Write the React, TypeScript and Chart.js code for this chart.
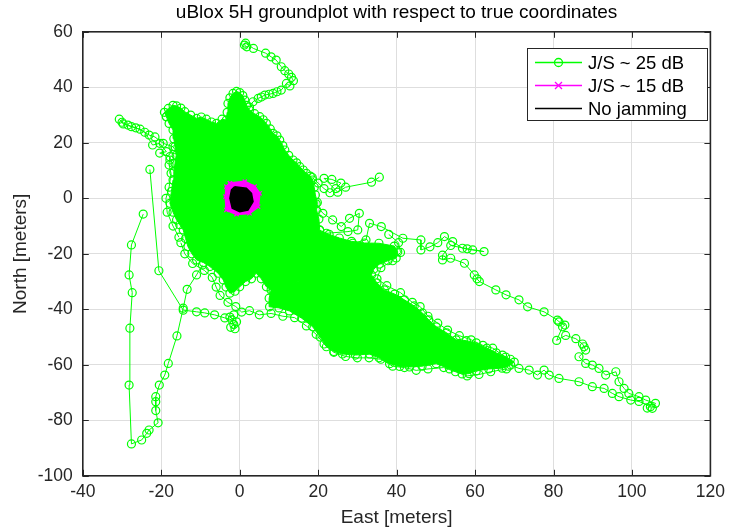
import React, { useEffect, useRef } from 'react';
import { Chart, registerables } from 'chart.js';

Chart.register(...registerables);

type P = [number, number];

const TITLE = 'uBlox 5H groundplot with respect to true coordinates';
const X_LABEL = 'East [meters]';
const Y_LABEL = 'North [meters]';
const X_MIN = -40, X_MAX = 120, X_STEP = 20;
const Y_MIN = -100, Y_MAX = 60, Y_STEP = 20;
const LEGEND_LABELS = ['J/S ~ 25 dB', 'J/S ~ 15 dB', 'No jamming'];

// ---- J/S ~ 25 dB (green, circles) ----
// dense core outline
const js25Core: P[] = [
  [-18.7, 29.4], [-19.2, 31], [-18.2, 32.4], [-17, 33.5], [-16.1, 33.3], [-15, 32.5], [-14.0, 31.2],
  [-12.5, 30], [-11.0, 28.8], [-9.8, 29.3], [-8.5, 28.5], [-7.2, 27.5], [-5.9, 27.0], [-4.5, 28.5],
  [-3.4, 28.2], [-3.2, 31], [-3.0, 34.2], [-2.5, 36.2], [-1.7, 37.8], [-0.8, 38.5], [0, 38.1], [0.8, 37],
  [1.3, 35.4], [1.8, 33.5], [2.5, 31.8], [3.8, 30.5], [5.1, 29.4], [6, 28.3], [6.8, 27.0], [7.8, 25],
  [8.5, 23.4], [9.5, 22.5], [10.2, 21.0], [11, 19], [11.5, 17.4], [12.5, 15.5], [13.6, 13.8], [14.5, 12.8],
  [15.3, 11.4], [16.2, 10.2], [17.0, 9.0], [18, 8], [18.6, 6.6], [19, 4], [19.3, 1.2], [19.8, -1.5],
  [19.6, -4.2], [20.2, -7.5], [20.4, -11.5], [21, -15], [20.5, -18], [20, -21.5], [19, -25], [17, -28],
  [15, -30], [12.5, -31.5], [10, -33], [8.5, -33.5], [6.8, -31.9], [5.5, -29], [4.2, -27.0], [3, -29],
  [1.5, -30], [0, -31.9], [-1.2, -33.5], [-2.5, -34.2], [-3.5, -32], [-4.2, -29.4], [-5.5, -27],
  [-7.6, -24.6], [-9.2, -23.2], [-11.0, -22.2], [-12.2, -20], [-13.2, -17.4], [-13.8, -14.5],
  [-14.4, -11.4], [-15.3, -9.5], [-16.1, -7.8], [-17, -5], [-17.8, -1.8], [-17.4, 2.5], [-17.0, 6.6],
  [-16.8, 9.5], [-16.5, 12.6], [-16.2, 15.5], [-16.5, 18.6], [-16.8, 21.5], [-17.0, 24.6], [-18, 27],
  [-18.7, 29.4],
];
// dense south-east arm outline
const js25Arm: P[] = [
  [20.4, -11.5], [22.8, -13], [25.4, -14.3], [28.5, -15.5], [31.8, -16.1], [35.5, -16.2], [39.4, -17.2],
  [40.3, -19.3], [39.9, -21.5], [37.8, -22.5], [35.6, -23.7], [34.2, -25.5], [33.6, -27.6], [35, -30.5],
  [36.9, -33.0], [39.5, -34.5], [42.0, -36.6], [44.5, -38.8], [46.6, -41.3], [48.2, -43.8], [50.1, -46.3],
  [52.8, -48.5], [55.2, -51.0], [57.8, -51.3], [60.3, -52.1], [63, -54], [65.4, -55.7], [67.8, -57.2],
  [70.0, -59.0], [68.5, -60.5], [66.9, -61.2], [63.5, -61.5], [60.3, -62.2], [58.5, -63.2], [56.7, -63.3],
  [53.5, -61.5], [50.1, -59.6], [46.5, -60.5], [43.3, -60.8], [40.8, -60.6], [38.2, -59.6], [35.5, -57.5],
  [33.1, -56.1], [29.5, -56.5], [26.2, -56.1], [24, -55.2], [22.1, -53.5], [20.5, -50], [18.6, -46.3],
  [15.8, -43.2], [12.7, -40.6], [10, -39.5], [7.6, -39.1], [7.5, -36], [8, -33], [11.5, -31.5], [15, -30],
  [18, -22], [20.4, -11.5],
];
const js25Spur: P[] = [
  [2.5, 32.9], [3.4, 34.8], [4.7, 36.0], [5.5, 36.5], [6.4, 37.2], [7.5, 37.5], [8.5, 37.8], [9.5, 38.4],
  [10.6, 39.0], [11.9, 41.4], [12.8, 40.5], [13.7, 42.4], [13.2, 43.6], [12.5, 44.8], [11.5, 46.0],
  [10.6, 47.4], [9.3, 49.8], [8.0, 51.0], [6.6, 52.3], [3.5, 54.0], [1.5, 55.9], [1.2, 55.2], [1.8, 54.6],
];
const js25WestArm: P[] = [
  [-16.5, 17.5], [-17, 18.6], [-19.5, 19.8], [-21.6, 22.1], [-23.1, 22.8], [-25.4, 24.9], [-27.6, 25.8],
  [-29.7, 26.8], [-30.7, 28.5], [-30, 27.4], [-28.5, 26.4], [-26.5, 25.4], [-24.2, 23.8], [-22.2, 19.2],
  [-20.4, 19.8], [-18.7, 16.8], [-20.4, 16.3], [-17.8, 15], [-17.8, 13.8], [-17, 12.6],
];
const js25SouthLoop: P[] = [
  [-9.5, -24], [-11, -27.6], [-13.4, -32.8], [-14.4, -39.6], [-16, -49.6], [-18.2, -59.5], [-19.1, -63.7],
  [-20.5, -67.3], [-21.4, -71.5], [-21.4, -73.3], [-21.4, -76.5], [-20.8, -80.9], [-23.1, -83.5],
  [-23.7, -84.7], [-25, -87.1], [-27.6, -88.5], [-28.2, -67.3], [-28, -46.8], [-27.4, -34], [-28.2, -27.6],
  [-27.6, -16.8], [-24.6, -5.7],
];
const js25WestLine: P[] = [
  [-22.9, 10.4], [-20.6, -26.1], [-14.4, -40.3], [-11, -40.9], [-8.9, -41.3], [-6.4, -42], [-3.8, -43.1],
  [-2, -43.8], [-1.5, -45.5], [-2.3, -46.5], [-1.2, -47], [-0.8, -44.5], [-2.5, -42.8], [-1.5, -42],
];
const js25EastStub: P[] = [
  [18.5, 7.5], [20, 5.5], [21.5, 3.5], [23, 2], [24.5, 3.5], [25.8, 5.5], [23.5, 6.8], [21.5, 7.2],
  [25, 2.2], [27, 4], [33.6, 5.8], [35.6, 7.6],
];
const js25NorthEast: P[] = [
  [19.5, -2], [21.2, -5.4], [23.7, -7.8], [25.9, -10.2], [28, -7.2], [30.5, -5.4], [30.1, -11.4],
  [27.6, -12], [22.1, -12.6], [24.6, -15.6], [28.8, -16.2], [32.2, -15], [33.1, -9], [36.1, -10.2],
  [41.6, -14.4], [46.2, -15], [46.2, -18.6], [48.5, -17.5], [50.5, -16], [52.2, -13.8], [54.3, -15.6],
  [56.8, -18], [59.4, -18.6], [62.3, -19.2], [58, -18.2], [53.8, -17], [51.7, -20.5], [51.7, -22.2],
  [53.8, -21.6], [57.3, -23.4], [59.8, -27.6], [60.5, -29], [61.1, -30], [65.3, -33], [67.9, -34.8],
  [71.2, -36.6], [73.4, -39.1], [77.6, -40.9], [81, -43.9], [81.4, -44.5], [82.9, -45.7], [82.3, -46.3],
  [80.8, -51.2], [83.1, -49.4], [85.7, -50.6], [87.4, -52.5], [87.8, -53.5], [88.2, -54.7], [86.5, -57.1],
  [88.2, -59.5], [89.9, -60.1], [91.6, -61.3], [93.3, -63.7], [95.9, -62.5], [96.7, -66.1], [98, -68.5],
  [99.2, -70.3], [101.8, -71.5], [103.5, -72.7], [106, -73.9], [105.2, -75.7],
];
const js25SouthEast: P[] = [
  [62, -56], [64, -58], [66, -58.5], [69.1, -60.1], [71.2, -61.3], [73.8, -61.9], [75.9, -63.7],
  [77.6, -61.9], [78.9, -63.7], [81.4, -64.9], [86.5, -66.1], [89.9, -67.9], [92.9, -68.5], [95, -70.3],
  [96.7, -71.5], [99.7, -72.7], [101.8, -73.2], [104.7, -75.1], [103.9, -75.6],
];
const js25ArmTop: P[] = [
  [38, -13], [40.5, -16], [41, -19.5], [39, -22.5], [36, -25], [35, -29], [37.5, -31.5], [41, -34],
  [44, -37.5], [46, -39], [48, -42.5], [50.5, -45], [53, -47.5], [56, -49.5], [59, -51], [62, -53],
  [64.5, -54], [67, -56.5], [69, -58],
];
const js25ArmBottom: P[] = [
  [68, -61.5], [64, -62.5], [61, -63.5], [58, -64], [55, -62.5], [52, -61], [48, -61.5], [45, -62],
  [42, -61], [39, -60.5], [36, -58], [33, -57.5], [30, -57.5], [27, -57], [24, -55.5], [21.5, -52.5],
  [19.5, -49], [17, -46], [14, -43], [11, -42.5], [8, -41.5], [5, -42], [2.5, -40.5], [0.5, -41],
  [-1, -39], [-3, -37.5], [-5, -35], [-6, -32], [-7, -28.5], [-9, -26], [-12, -23.5], [-14, -20],
  [-15, -16],
];
const js25CoreEdge: P[] = [
  [-15.5, -14], [-17, -10], [-18.5, -5], [-18.8, 0], [-18, 4], [-17.5, 9], [-18, 12],
];

// ---- J/S ~ 15 dB (magenta, x) ----
const js15Outline: P[] = [
  [-2.5, 5.4], [1.3, 6], [3.8, 4.2], [5.1, 1.8], [4.7, -3], [2.5, -5.4], [-0.8, -5.7], [-3.4, -4.2],
  [-3.6, 0.6], [-3.4, 4.2], [-2.5, 5.4],
];

// ---- No jamming (black) ----
const noJamOutline: P[] = [
  [-1.3, 4.2], [1.7, 3.6], [3, 1.8], [3.4, -1.2], [2.1, -4.2], [0, -4.8], [-1.9, -3.6], [-2.5, 0],
  [-2.1, 3], [-1.3, 4.2],
];

const GREEN = '#00ff00';
const MAGENTA = '#ff00ff';
const BLACK = '#000000';
const AXIS = '#262626';
const FONT = "'Liberation Sans', Arial, Helvetica, sans-serif";

const pts = (arr: P[]) => arr.map(([x, y]) => ({ x, y }));

const greenPath = (arr: P[]) => ({
  data: pts(arr),
  borderColor: GREEN,
  borderWidth: 1,
  fill: false,
  pointStyle: 'circle',
  pointRadius: 4,
  pointBorderWidth: 1.2,
  pointBorderColor: GREEN,
  pointBackgroundColor: 'rgba(0,0,0,0)',
  order: 5,
});
const greenArea = (arr: P[]) => ({
  ...greenPath(arr),
  fill: 'shape',
  backgroundColor: GREEN,
  order: 6,
});

const framePlugin = {
  id: 'frame',
  afterDraw(chart: any) {
    const { ctx, chartArea: a, scales } = chart;
    const xs = scales.x, ys = scales.y;
    ctx.save();
    ctx.strokeStyle = AXIS;
    ctx.lineWidth = 1;
    const tl = 6;
    ctx.beginPath();
    for (let v = X_MIN; v <= X_MAX; v += X_STEP) {
      const px = Math.round(xs.getPixelForValue(v)) + 0.5;
      ctx.moveTo(px, a.bottom); ctx.lineTo(px, a.bottom - tl);
      ctx.moveTo(px, a.top); ctx.lineTo(px, a.top + tl);
    }
    for (let v = Y_MIN; v <= Y_MAX; v += Y_STEP) {
      const py = Math.round(ys.getPixelForValue(v)) + 0.5;
      ctx.moveTo(a.left, py); ctx.lineTo(a.left + tl, py);
      ctx.moveTo(a.right, py); ctx.lineTo(a.right - tl, py);
    }
    ctx.stroke();
    ctx.lineWidth = 1.6;
    ctx.strokeRect(a.left, a.top, a.right - a.left, a.bottom - a.top);

    // title + axis titles
    ctx.fillStyle = '#000';
    ctx.font = `19px ${FONT}`;
    ctx.textAlign = 'center';
    ctx.textBaseline = 'middle';
    const cx = (a.left + a.right) / 2;
    ctx.fillText(TITLE, cx, 13);
    ctx.fillStyle = AXIS;
    ctx.fillText(X_LABEL, cx, 518);
    ctx.save();
    ctx.translate(21, (a.top + a.bottom) / 2);
    ctx.rotate(-Math.PI / 2);
    ctx.fillText(Y_LABEL, 0, 0);
    ctx.restore();

    // legend
    const lx = 527.5, ly = 48.5, lw = 180, lh = 72;
    ctx.fillStyle = '#fff';
    ctx.fillRect(lx, ly, lw, lh);
    ctx.strokeStyle = AXIS;
    ctx.lineWidth = 1;
    ctx.strokeRect(lx, ly, lw, lh);
    const rows = [62.5, 85.5, 108.5];
    const colors = [GREEN, MAGENTA, BLACK];
    ctx.font = `18.5px ${FONT}`;
    ctx.textAlign = 'left';
    rows.forEach((ry, i) => {
      ctx.strokeStyle = colors[i];
      ctx.lineWidth = 1.3;
      ctx.beginPath();
      ctx.moveTo(535, ry); ctx.lineTo(582, ry);
      ctx.stroke();
      if (i === 0) {
        ctx.beginPath(); ctx.arc(558.5, ry, 4, 0, Math.PI * 2); ctx.stroke();
      } else if (i === 1) {
        ctx.beginPath();
        ctx.moveTo(555, ry - 3.5); ctx.lineTo(562, ry + 3.5);
        ctx.moveTo(555, ry + 3.5); ctx.lineTo(562, ry - 3.5);
        ctx.stroke();
      }
      ctx.fillStyle = '#000';
      ctx.fillText(LEGEND_LABELS[i], 588, ry + 1);
    });
    ctx.restore();
  },
};

export default function App() {
  const ref = useRef<HTMLCanvasElement>(null);
  useEffect(() => {
    Chart.defaults.font.family = FONT;
    const datasets: any[] = [
      {
        data: pts(noJamOutline), borderColor: BLACK, backgroundColor: BLACK, borderWidth: 1.5,
        fill: 'shape', pointRadius: 0, order: 0,
      },
      {
        data: pts(js15Outline), borderColor: MAGENTA, backgroundColor: MAGENTA, borderWidth: 2,
        fill: 'shape', pointStyle: 'crossRot', pointRadius: 3, pointBorderColor: MAGENTA,
        pointBorderWidth: 1.2, order: 1,
      },
      greenPath(js25Spur),
      greenPath(js25WestArm),
      greenPath(js25SouthLoop),
      greenPath(js25WestLine),
      greenPath(js25EastStub),
      greenPath(js25NorthEast),
      greenPath(js25SouthEast),
      greenPath(js25ArmTop),
      greenPath(js25ArmBottom),
      greenPath(js25CoreEdge),
      greenArea(js25Core),
      greenArea(js25Arm),
    ];
    const chart = new Chart(ref.current as HTMLCanvasElement, {
      type: 'line',
      data: { datasets },
      options: {
        animation: false,
        responsive: false,
        devicePixelRatio: 1,
        events: [],
        layout: { padding: { top: 31.8, right: 18.5, left: 0, bottom: 0 } },
        plugins: { legend: { display: false }, tooltip: { enabled: false }, title: { display: false } },
        elements: { line: { tension: 0 } },
        scales: {
          x: {
            type: 'linear', min: X_MIN, max: X_MAX,
            ticks: { stepSize: X_STEP, padding: 6, color: AXIS, font: { size: 17.5 } },
            grid: { color: '#dedede', drawTicks: false, lineWidth: 1 },
            border: { display: false },
            afterFit: (s: any) => { s.height = 531 - 475.8; },
          },
          y: {
            type: 'linear', min: Y_MIN, max: Y_MAX,
            ticks: { stepSize: Y_STEP, padding: 10, color: AXIS, font: { size: 17.5 } },
            grid: { color: '#dedede', drawTicks: false, lineWidth: 1 },
            border: { display: false },
            afterFit: (s: any) => { s.width = 82.8; },
          },
        },
      } as any,
      plugins: [framePlugin],
    });
    return () => chart.destroy();
  }, []);
  return (
    <div style={{ position: 'fixed', left: 0, top: 0, width: 731, height: 531, background: '#fff' }}>
      <canvas ref={ref} width={731} height={531} style={{ display: 'block' }} />
    </div>
  );
}
